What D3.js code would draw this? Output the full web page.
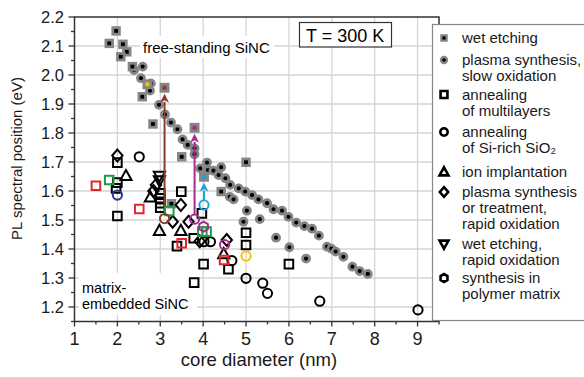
<!DOCTYPE html>
<html><head><meta charset="utf-8">
<script src="https://cdn.jsdelivr.net/npm/d3@7"></script>
<style>body{margin:0;background:#fff}svg{display:block;font-family:"Liberation Sans",Arial,sans-serif}</style>
</head><body><svg id="c" width="584" height="377"></svg>
<script>
// ---------------- DATA ----------------
const xTicks = [1,2,3,4,5,6,7,8,9];
const xMinor = [1.5,2.5,3.5,4.5,5.5,6.5,7.5,8.5,9.5];
const yTicks = [1.2,1.3,1.4,1.5,1.6,1.7,1.8,1.9,2.0,2.1,2.2];
const yMinor = [1.15,1.25,1.35,1.45,1.55,1.65,1.75,1.85,1.95,2.05,2.15];

// free-standing SiNC
const wetEtching = [[1.81,2.109],[1.97,2.152],[2.13,2.106],[2.22,2.080],[2.08,2.063],[2.35,2.029],
  [2.58,1.925],[2.83,1.831],[3.50,1.718],[5.00,1.699],[4.42,1.598],[3.26,1.556]];
const plasmaSlow = [[2.39,2.017],[2.59,2.029],[2.55,1.989],[2.78,1.971],[2.76,1.946],[2.97,1.897],
  [3.11,1.864],[3.25,1.836],[3.40,1.813],[3.52,1.778],[3.64,1.759],[3.80,1.747],[3.80,1.727],
  [3.93,1.678],[4.09,1.698],[4.11,1.672],[4.24,1.670],[4.42,1.682],[4.36,1.655],[4.52,1.644],
  [4.63,1.621],[4.83,1.609],[4.98,1.598],[5.14,1.586],[5.29,1.571],[5.49,1.558],[5.64,1.537],
  [5.84,1.532],[5.99,1.511],[6.17,1.491],[6.36,1.479],[6.54,1.470],[6.70,1.446],[6.89,1.408],
  [6.99,1.401],[7.09,1.391],[7.27,1.373],[7.48,1.339],[7.65,1.324],[7.84,1.314],
  [4.62,1.580],[4.71,1.571],[5.02,1.532],[4.94,1.494],[5.32,1.503],[5.70,1.439],[6.01,1.406],[6.40,1.367]];

// matrix-embedded SiNC
const multilayers = [[2.00,1.698],[2.00,1.629],[1.97,1.609],[2.00,1.514],[3.00,1.592],[3.00,1.575],
  [3.00,1.558],[3.00,1.542],[3.49,1.598],[3.97,1.523],[3.78,1.437],[3.39,1.410],[4.01,1.348],
  [3.79,1.284],[4.59,1.330],[5.00,1.456],[5.00,1.414],[6.00,1.348]];
const siRichSiO2 = [[2.51,1.718],[4.02,1.425],[4.17,1.425],[4.67,1.360],[5.00,1.299],[5.39,1.282],
  [5.50,1.247],[6.72,1.220],[9.01,1.190]];
const ionImplantation = [[2.20,1.652],[2.77,1.578],[2.98,1.463],[3.48,1.463],[4.48,1.383]];
const plasmaRapid = [[2.00,1.722],[2.90,1.621],[2.84,1.600],[3.48,1.552],[3.29,1.494],[3.66,1.494],
  [3.92,1.427],[4.55,1.431]];
const wetEtchingRapid = [[2.98,1.652],[2.98,1.636]];
const polymerMatrix = [];

// individual studies drawn in colour: [method, x, y]
const studyRed = [["multilayers",1.50,1.618],["multilayers",2.51,1.538],["multilayers",3.50,1.420],["multilayers",4.49,1.362]];
const studyGreen = [["multilayers",1.81,1.638],["multilayers",3.21,1.531],["multilayers",3.98,1.460],["multilayers",4.08,1.460]];
const studyBlue = [["siRichSiO2",2.00,1.586]];
const studyBrown = [["siRichSiO2",3.10,1.505],["wetEtching",3.10,1.956]];
const studyMagenta = [["siRichSiO2",3.80,1.503],["polymerMatrix",4.01,1.477],["siRichSiO2",4.50,1.415],["wetEtching",3.80,1.818]];
const studyCyan = [["siRichSiO2",4.02,1.552],["wetEtching",4.02,1.649]];
const studyYellow = [["siRichSiO2",5.00,1.376],["wetEtching",2.70,1.968]];

// arrows: [x, from y, to y]
const arrowBrown = [3.10,1.505,1.956];
const arrowMagenta = [3.80,1.503,1.818];
const arrowCyan = [4.02,1.552,1.649];

const legendLabels = [
  ["wetEtching",["wet etching"]],
  ["plasmaSlow",["plasma synthesis,","slow oxidation"]],
  ["multilayers",["annealing","of multilayers"]],
  ["siRichSiO2",["annealing","of Si-rich SiO\u2082"]],
  ["ionImplantation",["ion implantation"]],
  ["plasmaRapid",["plasma synthesis","or treatment,","rapid oxidation"]],
  ["wetEtchingRapid",["wet etching,","rapid oxidation"]],
  ["polymerMatrix",["synthesis in","polymer matrix"]]
];

// ---------------- DRAWING ----------------
const svg = d3.select("#c");
const x = d3.scaleLinear().domain([1,9.5]).range([74.5,439]);
const y = d3.scaleLinear().domain([1.15,2.2]).range([321.5,17]);
const colors = {red:"#e3262c",green:"#1e9c48",blue:"#2e3890",brown:"#8c3b2c",magenta:"#a82a8c",cyan:"#1aa3e0",yellow:"#f6c100"};
const GRID = "#d5d5d5";

// grid
svg.append("g").selectAll("line").data(xTicks.slice(1)).join("line")
  .attr("x1",d=>x(d)).attr("x2",d=>x(d)).attr("y1",y(1.15)).attr("y2",y(2.2))
  .attr("stroke",GRID).attr("stroke-width",1.3);
svg.append("g").selectAll("line").data(yTicks.slice(0,-1)).join("line")
  .attr("x1",x(1)).attr("x2",x(9.5)).attr("y1",d=>y(d)).attr("y2",d=>y(d))
  .attr("stroke",GRID).attr("stroke-width",1.3);

// annotations with white background
svg.append("rect").attr("x",140).attr("y",36).attr("width",134).attr("height",22).attr("fill","#fff");
svg.append("text").attr("x",143).attr("y",53).attr("font-size",15).text("free-standing SiNC");
svg.append("rect").attr("x",79).attr("y",273).attr("width",118).attr("height",42).attr("fill","#fff");
svg.append("text").attr("x",82).attr("y",292.5).attr("font-size",14.5).text("matrix-");
svg.append("text").attr("x",82).attr("y",309).attr("font-size",14.5).text("embedded SiNC");
svg.append("rect").attr("x",299.5).attr("y",22.5).attr("width",92).attr("height",24.5)
  .attr("fill","#fff").attr("stroke","#333").attr("stroke-width",1.2);
svg.append("text").attr("x",306).attr("y",41.5).attr("font-size",18).text("T = 300 K");

// symbol paths
function symPath(type, k){
  k = k||1;
  if(type==="multilayers"||type==="wetEtching"){const s=4.3*k;return `M${-s},${-s}H${s}V${s}H${-s}Z`;}
  if(type==="siRichSiO2"||type==="plasmaSlow"){const r=4.6*k;return `M${r},0A${r},${r} 0 1,1 ${-r},0A${r},${r} 0 1,1 ${r},0Z`;}
  if(type==="ionImplantation"){const s=5.6*k;return `M0,${-1.05*s}L${s},${0.75*s}L${-s},${0.75*s}Z`;}
  if(type==="wetEtchingRapid"){const s=5.6*k;return `M0,${1.05*s}L${s},${-0.75*s}L${-s},${-0.75*s}Z`;}
  if(type==="plasmaRapid"){const s=5.2*k;return `M0,${-1.15*s}L${s},0L0,${1.15*s}L${-s},0Z`;}
  if(type==="polymerMatrix"){const r=5*k;let p="";for(let i=0;i<6;i++){const a=Math.PI/6+i*Math.PI/3;p+=(i?"L":"M")+(r*Math.cos(a)).toFixed(2)+","+(r*Math.sin(a)).toFixed(2);}return p+"Z";}
}

// plasma synthesis slow oxidation (filled circles with gray halo)
function drawPlasma(g, pts, k){
  g.selectAll(null).data(pts).join("circle")
    .attr("cx",d=>d[0]).attr("cy",d=>d[1]).attr("r",3.5*k)
    .attr("fill","#000").attr("stroke","#858585").attr("stroke-width",2.8*k);
}
function drawWet(g, pts, k, fill){
  g.selectAll(null).data(pts).join("rect")
    .attr("x",d=>d[0]-3.3*k).attr("y",d=>d[1]-3.3*k).attr("width",6.6*k).attr("height",6.6*k)
    .attr("fill",fill||"#000").attr("stroke","#858585").attr("stroke-width",2.8*k);
}
const gp = svg.append("g");
drawPlasma(gp, plasmaSlow.map(d=>[x(d[0]),y(d[1])]), 1);
drawWet(gp, wetEtching.map(d=>[x(d[0]),y(d[1])]), 1);

// open markers
const openSets = [["multilayers",multilayers],["siRichSiO2",siRichSiO2],["ionImplantation",ionImplantation],
  ["plasmaRapid",plasmaRapid],["wetEtchingRapid",wetEtchingRapid],["polymerMatrix",polymerMatrix]];
const go = svg.append("g");
openSets.forEach(([type,pts])=>{
  go.selectAll(null).data(pts).join("path")
    .attr("transform",d=>`translate(${x(d[0])},${y(d[1])})`)
    .attr("d",symPath(type)).attr("fill","none").attr("stroke","#000").attr("stroke-width",2);
});

// arrows
const arrows = [[arrowBrown,"brown"],[arrowMagenta,"magenta"],[arrowCyan,"cyan"]];
const ga = svg.append("g");
arrows.forEach(([a,c])=>{
  const px=x(a[0]), y0=y(a[1])-5, tip=y(a[2])+6, hl=9, hw=4.5;
  ga.append("line").attr("x1",px).attr("x2",px).attr("y1",y0).attr("y2",tip+hl-1)
    .attr("stroke",colors[c]).attr("stroke-width",2);
  ga.append("path").attr("d",`M${px},${tip}L${px+hw},${tip+hl}L${px},${tip+hl-2.5}L${px-hw},${tip+hl}Z`)
    .attr("fill",colors[c]);
});

// coloured studies
const studies = [[studyRed,"red"],[studyGreen,"green"],[studyBlue,"blue"],[studyBrown,"brown"],
  [studyMagenta,"magenta"],[studyCyan,"cyan"],[studyYellow,"yellow"]];
const gc = svg.append("g");
studies.forEach(([pts,c])=>{
  pts.forEach(([type,vx,vy])=>{
    if(type==="wetEtching"){
      drawWet(gc,[[x(vx),y(vy)]],1.05,colors[c]);
    } else {
      gc.append("path").attr("transform",`translate(${x(vx)},${y(vy)})`)
        .attr("d",symPath(type)).attr("fill","none").attr("stroke",colors[c]).attr("stroke-width",2);
    }
  });
});

// frame & ticks
const AX="#333";
svg.append("rect").attr("x",x(1)).attr("y",y(2.2)).attr("width",x(9.5)-x(1)).attr("height",y(1.15)-y(2.2))
  .attr("fill","none").attr("stroke",AX).attr("stroke-width",1.5);
svg.append("g").selectAll("line").data(xTicks).join("line")
  .attr("x1",d=>x(d)).attr("x2",d=>x(d)).attr("y1",y(1.15)).attr("y2",y(1.15)+5).attr("stroke",AX).attr("stroke-width",1.3);
svg.append("g").selectAll("line").data(xMinor).join("line")
  .attr("x1",d=>x(d)).attr("x2",d=>x(d)).attr("y1",y(1.15)).attr("y2",y(1.15)+3).attr("stroke",AX).attr("stroke-width",1.3);
svg.append("g").selectAll("line").data(yTicks).join("line")
  .attr("x1",x(1)-6).attr("x2",x(1)).attr("y1",d=>y(d)).attr("y2",d=>y(d)).attr("stroke",AX).attr("stroke-width",1.3);
svg.append("g").selectAll("line").data(yMinor).join("line")
  .attr("x1",x(1)-3.5).attr("x2",x(1)).attr("y1",d=>y(d)).attr("y2",d=>y(d)).attr("stroke",AX).attr("stroke-width",1.3);
svg.append("g").selectAll("text").data(xTicks).join("text")
  .attr("x",d=>x(d)).attr("y",345).attr("text-anchor","middle").attr("font-size",18).attr("fill","#1a1a1a").text(d=>d);
svg.append("g").selectAll("text").data(yTicks).join("text")
  .attr("x",64).attr("y",d=>y(d)+6).attr("text-anchor","end").attr("font-size",16.5).attr("fill","#1a1a1a").text(d3.format(".1f"));
svg.append("text").attr("x",259).attr("y",366).attr("text-anchor","middle").attr("font-size",18.5).attr("fill","#1a1a1a").text("core diameter (nm)");
svg.append("text").attr("transform","translate(22,158.5) rotate(-90)").attr("text-anchor","middle").attr("font-size",15).attr("fill","#1a1a1a").text("PL spectral position (eV)");

// legend
svg.append("rect").attr("x",432.5).attr("y",24.5).attr("width",160).attr("height",296)
  .attr("fill","#fff").attr("stroke","#888").attr("stroke-width",1.2);
const legBase = [43,65,99.5,137,177,197,249,283];
const gl = svg.append("g");
legendLabels.forEach(([type,lines],i)=>{
  const by = legBase[i], my = by-5, mx = 444;
  if(type==="plasmaSlow") drawPlasma(gl,[[mx,my]],0.85);
  else if(type==="wetEtching") drawWet(gl,[[mx,my]],0.8);
  else gl.append("path").attr("transform",`translate(${mx},${my})`).attr("d",symPath(type,0.8))
        .attr("fill","none").attr("stroke","#000").attr("stroke-width",2.6);
  lines.forEach((t,j)=>{
    gl.append("text").attr("x",462).attr("y",by+j*16).attr("font-size",15).attr("fill","#1a1a1a").text(t);
  });
});
</script></body></html>
